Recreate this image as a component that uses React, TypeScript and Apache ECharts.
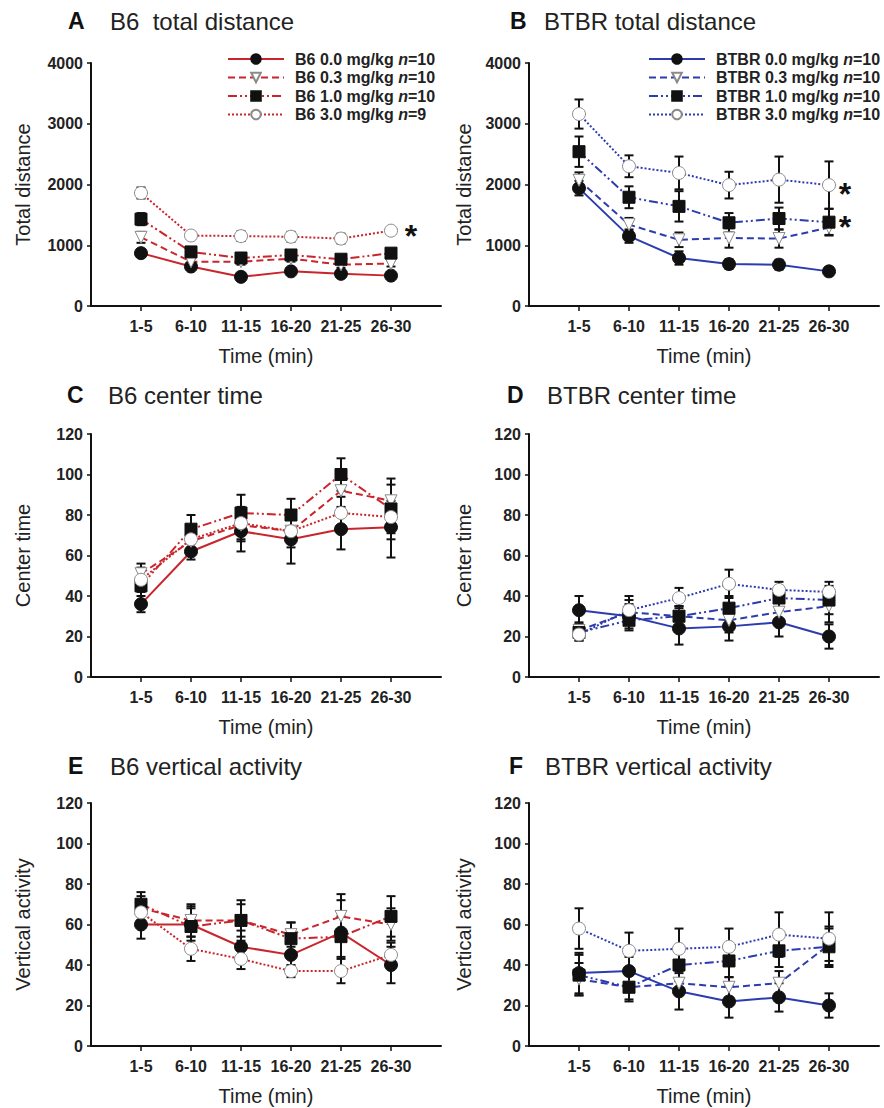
import React, { useEffect, useRef } from "react";
import * as echarts from "echarts";

const categories = ["1-5", "6-10", "11-15", "16-20", "21-25", "26-30"];

const b6Names = ["B6 0.0 mg/kg n=10", "B6 0.3 mg/kg n=10", "B6 1.0 mg/kg n=10", "B6 3.0 mg/kg n=9"];
const btbrNames = ["BTBR 0.0 mg/kg n=10", "BTBR 0.3 mg/kg n=10", "BTBR 1.0 mg/kg n=10", "BTBR 3.0 mg/kg n=10"];

// A: B6 total distance (mean, SEM)
const a00 = [870, 650, 480, 570, 530, 500];
const a00e = [60, 40, 30, 50, 40, 40];
const a03 = [1130, 730, 730, 780, 680, 700];
const a03e = [90, 50, 50, 50, 50, 50];
const a10 = [1430, 890, 790, 840, 770, 870];
const a10e = [100, 60, 60, 60, 60, 60];
const a30 = [1860, 1160, 1150, 1140, 1110, 1240];
const a30e = [90, 60, 80, 80, 80, 40];

// B: BTBR total distance
const b00 = [1940, 1150, 790, 690, 680, 570];
const b00e = [120, 110, 110, 80, 80, 70];
const b03 = [2070, 1340, 1090, 1120, 1110, 1290];
const b03e = [130, 110, 120, 160, 150, 120];
const b10 = [2540, 1790, 1640, 1370, 1440, 1380];
const b10e = [250, 180, 250, 160, 180, 220];
const b30 = [3160, 2300, 2190, 1990, 2080, 1990];
const b30e = [240, 180, 270, 220, 380, 390];

// C: B6 center time
const c00 = [36, 62, 72, 68, 73, 74];
const c00e = [4, 4, 10, 12, 10, 15];
const c03 = [51, 67, 75, 72, 92, 87];
const c03e = [5, 5, 8, 8, 8, 8];
const c10 = [45, 73, 81, 80, 100, 83];
const c10e = [8, 7, 9, 8, 8, 15];
const c30 = [48, 68, 76, 72, 81, 79];
const c30e = [6, 6, 8, 6, 8, 8];

// D: BTBR center time
const d00 = [33, 30, 24, 25, 27, 20];
const d00e = [7, 6, 8, 7, 7, 6];
const d03 = [23, 32, 30, 28, 32, 35];
const d03e = [4, 6, 5, 6, 6, 8];
const d10 = [22, 28, 30, 34, 39, 38];
const d10e = [4, 5, 5, 6, 6, 7];
const d30 = [21, 33, 39, 46, 43, 42];
const d30e = [3, 7, 5, 7, 4, 5];

// E: B6 vertical activity
const e00 = [60, 60, 49, 45, 56, 40];
const e00e = [7, 8, 8, 7, 19, 9];
const e03 = [68, 62, 62, 55, 64, 60];
const e03e = [6, 8, 8, 6, 8, 8];
const e10 = [70, 59, 62, 53, 54, 64];
const e10e = [6, 10, 10, 8, 10, 10];
const e30 = [66, 48, 43, 37, 37, 45];
const e30e = [6, 6, 5, 3, 6, 6];

// F: BTBR vertical activity
const f00 = [36, 37, 27, 22, 24, 20];
const f00e = [10, 7, 9, 8, 7, 6];
const f03 = [33, 29, 31, 29, 31, 50];
const f03e = [8, 6, 6, 5, 6, 8];
const f10 = [35, 29, 40, 42, 47, 49];
const f10e = [10, 7, 8, 8, 8, 10];
const f30 = [58, 47, 48, 49, 55, 53];
const f30e = [10, 9, 10, 9, 11, 13];

const FONT = "'Liberation Sans', Arial, Helvetica, sans-serif";
const RED = "#c9252c";
const BLUE = "#2c3cae";

const doseStyles = [
  { symbol: "circle", size: 13, rotate: 0, fill: "#111", border: "#111", dash: "solid" as any },
  { symbol: "triangle", size: 12, rotate: 180, fill: "#fff", border: "#8a8a8a", dash: [7, 4] },
  { symbol: "rect", size: 12, rotate: 0, fill: "#111", border: "#111", dash: [9, 3, 2, 3, 2, 3] },
  { symbol: "circle", size: 13, rotate: 0, fill: "#fff", border: "#8a8a8a", dash: [2, 2] },
];

const panels = [
  { letter: "A", title: "B6  total distance", yName: "Total distance", means: [a00, a03, a10, a30], errs: [a00e, a03e, a10e, a30e], color: RED, names: b6Names, yMax: 4000, yInt: 1000, left: 91, top: 63, lx: 68, tx: 110, ty: 21, nameGap: 58 },
  { letter: "B", title: "BTBR total distance", yName: "Total distance", means: [b00, b03, b10, b30], errs: [b00e, b03e, b10e, b30e], color: BLUE, names: btbrNames, yMax: 4000, yInt: 1000, left: 529, top: 63, lx: 510, tx: 544, ty: 21, nameGap: 55 },
  { letter: "C", title: "B6 center time", yName: "Center time", means: [c00, c03, c10, c30], errs: [c00e, c03e, c10e, c30e], color: RED, names: b6Names, yMax: 120, yInt: 20, left: 91, top: 434, lx: 67, tx: 108, ty: 395, nameGap: 58 },
  { letter: "D", title: "BTBR center time", yName: "Center time", means: [d00, d03, d10, d30], errs: [d00e, d03e, d10e, d30e], color: BLUE, names: btbrNames, yMax: 120, yInt: 20, left: 529, top: 434, lx: 507, tx: 547, ty: 395, nameGap: 55 },
  { letter: "E", title: "B6 vertical activity", yName: "Vertical activity", means: [e00, e03, e10, e30], errs: [e00e, e03e, e10e, e30e], color: RED, names: b6Names, yMax: 120, yInt: 20, left: 91, top: 803, lx: 68, tx: 110, ty: 766, nameGap: 58 },
  { letter: "F", title: "BTBR vertical activity", yName: "Vertical activity", means: [f00, f03, f10, f30], errs: [f00e, f03e, f10e, f30e], color: BLUE, names: btbrNames, yMax: 120, yInt: 20, left: 529, top: 803, lx: 509, tx: 545, ty: 766, nameGap: 55 },
];

const tickPositions = categories.map((_, i) => i + 1);

function legendFormatter(name: string) {
  const i = name.lastIndexOf("n=");
  return `{p|${name.slice(0, i)}}{i|n}{b|${name.slice(i + 1)}}`;
}

function buildOption() {
  const grid: any[] = [];
  const xAxis: any[] = [];
  const yAxis: any[] = [];
  const series: any[] = [];
  const graphic: any[] = [];

  panels.forEach((p, pi) => {
    grid.push({ left: p.left, top: p.top, width: 350, height: 243, containLabel: false });
    xAxis.push({
      type: "value",
      gridIndex: pi,
      min: 0,
      max: 7,
      interval: 1,
      name: "Time (min)",
      nameLocation: "middle",
      nameGap: 40,
      nameTextStyle: { fontFamily: FONT, fontSize: 20, color: "#222" },
      axisLine: { show: true, onZero: false, lineStyle: { color: "#111", width: 2 } },
      axisTick: { show: true, inside: false, length: 5, customValues: tickPositions, lineStyle: { color: "#111", width: 1.5 } },
      axisLabel: {
        show: true,
        customValues: tickPositions,
        margin: 12,
        formatter: (v: number) => categories[Math.round(v) - 1] ?? "",
        fontFamily: FONT,
        fontSize: 16,
        fontWeight: "bold",
        color: "#222",
      },
      splitLine: { show: false },
    });
    yAxis.push({
      type: "value",
      gridIndex: pi,
      min: 0,
      max: p.yMax,
      interval: p.yInt,
      name: p.yName,
      nameLocation: "middle",
      nameGap: p.nameGap,
      nameTextStyle: { fontFamily: FONT, fontSize: 20, color: "#222" },
      axisLine: { show: true, lineStyle: { color: "#111", width: 2 } },
      axisTick: { show: true, inside: false, length: 4, lineStyle: { color: "#111", width: 1.5 } },
      axisLabel: { margin: 8, formatter: (v: number) => String(v), fontFamily: FONT, fontSize: 16, fontWeight: "bold", color: "#222" },
      splitLine: { show: false },
    });

    p.means.forEach((vals, di) => {
      const st = doseStyles[di];
      const errs = p.errs[di];
      series.push({
        type: "custom",
        name: `err-${p.letter}-${di}`,
        xAxisIndex: pi,
        yAxisIndex: pi,
        z: 2,
        silent: true,
        encode: { x: 0, y: [1, 2] },
        data: vals.map((v, i) => [i + 1, v - errs[i], v + errs[i]]),
        renderItem: (params: any, api: any) => {
          const x = api.value(0);
          const lo = api.coord([x, api.value(1)]);
          const hi = api.coord([x, api.value(2)]);
          const w = 4.5;
          const style = { stroke: "#111", lineWidth: 2 };
          return {
            type: "group",
            children: [
              { type: "line", shape: { x1: lo[0], y1: lo[1], x2: hi[0], y2: hi[1] }, style },
              { type: "line", shape: { x1: lo[0] - w, y1: lo[1], x2: lo[0] + w, y2: lo[1] }, style },
              { type: "line", shape: { x1: hi[0] - w, y1: hi[1], x2: hi[0] + w, y2: hi[1] }, style },
            ],
          };
        },
      });
      series.push({
        type: "line",
        name: p.names[di],
        xAxisIndex: pi,
        yAxisIndex: pi,
        z: 3,
        data: vals.map((v, i) => [i + 1, v]),
        symbol: st.symbol,
        symbolSize: st.size,
        symbolRotate: st.rotate,
        showSymbol: true,
        lineStyle: { color: p.color, width: 2, type: st.dash },
        itemStyle: { color: st.fill, borderColor: st.border, borderWidth: 1 },
      });
    });

    graphic.push({
      type: "text",
      x: p.lx,
      y: p.ty,
      style: { text: p.letter, font: `bold 23px ${FONT}`, fill: "#111", textAlign: "left", textVerticalAlign: "middle" },
    });
    graphic.push({
      type: "text",
      x: p.tx,
      y: p.ty,
      style: { text: p.title, font: `24px ${FONT}`, fill: "#222", textAlign: "left", textVerticalAlign: "middle" },
    });
  });

  // significance asterisks
  [
    [411, 236],
    [845, 194],
    [845, 227],
  ].forEach(([x, y]) => {
    graphic.push({
      type: "text",
      x,
      y,
      style: { text: "*", font: `bold 32px ${FONT}`, fill: "#111", textAlign: "center", textVerticalAlign: "middle" },
    });
  });

  const txt = { fontFamily: FONT, fontSize: 16, lineHeight: 14, fontWeight: "bold", color: "#222" };
  const legendCommon = {
    orient: "vertical",
    itemWidth: 56,
    itemHeight: 12,
    itemGap: 2.5,
    padding: 0,
    selectedMode: false,
    formatter: legendFormatter,
    textStyle: {
      rich: {
        p: { ...txt, padding: [0, 0, 0, 6] },
        b: { ...txt },
        i: { ...txt, fontStyle: "italic" },
      },
    },
  };

  return {
    animation: false,
    backgroundColor: "#fff",
    grid,
    xAxis,
    yAxis,
    series,
    graphic,
    legend: [
      { ...legendCommon, data: b6Names, left: 227, top: 51 },
      { ...legendCommon, data: btbrNames, left: 648, top: 51 },
    ],
  };
}

export default function App() {
  const ref = useRef<HTMLDivElement>(null);
  useEffect(() => {
    document.body.style.margin = "0";
    if (!ref.current) return;
    const chart = echarts.init(ref.current, undefined, { renderer: "svg" });
    chart.setOption(buildOption() as any);
    return () => chart.dispose();
  }, []);
  return <div ref={ref} style={{ width: 884, height: 1108 }} />;
}
